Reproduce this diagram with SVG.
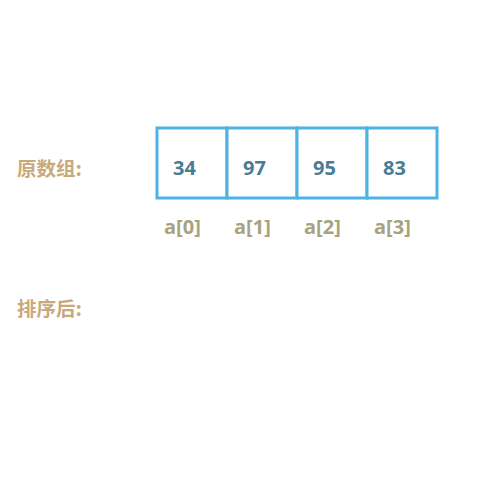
<svg xmlns="http://www.w3.org/2000/svg" width="500" height="500" viewBox="0 0 500 500">
<style>
.lbl{font-family:"Noto Sans CJK SC","Noto Sans",sans-serif;font-weight:bold;font-size:19.5px;fill:#C9A97B}
.num{font-family:"Open Sans","Noto Sans CJK SC",sans-serif;font-weight:bold;font-size:20px;fill:#4B7B95}
.idx{font-family:"Open Sans","Noto Sans CJK SC",sans-serif;font-weight:bold;font-size:20px;fill:#A8A27F}
.cell{fill:#fff;stroke:#4FB3E1;stroke-width:3}
</style>
<rect width="500" height="500" fill="#fff"/>
<g id="label-original"><text class="lbl" x="17" y="176">原数组:</text></g>
<g id="label-sorted"><text class="lbl" x="17" y="316">排序后:</text></g>
<g id="cell0"><rect class="cell" x="157" y="128" width="70" height="70"/><text class="num" x="173" y="175">34</text><text class="idx" x="164" y="234">a[0]</text></g>
<g id="cell1"><rect class="cell" x="227" y="128" width="70" height="70"/><text class="num" x="243" y="175">97</text><text class="idx" x="234" y="234">a[1]</text></g>
<g id="cell2"><rect class="cell" x="297" y="128" width="70" height="70"/><text class="num" x="313" y="175">95</text><text class="idx" x="304" y="234">a[2]</text></g>
<g id="cell3"><rect class="cell" x="367" y="128" width="70" height="70"/><text class="num" x="383" y="175">83</text><text class="idx" x="374" y="234">a[3]</text></g>
<g id="connectors"/>
</svg>
